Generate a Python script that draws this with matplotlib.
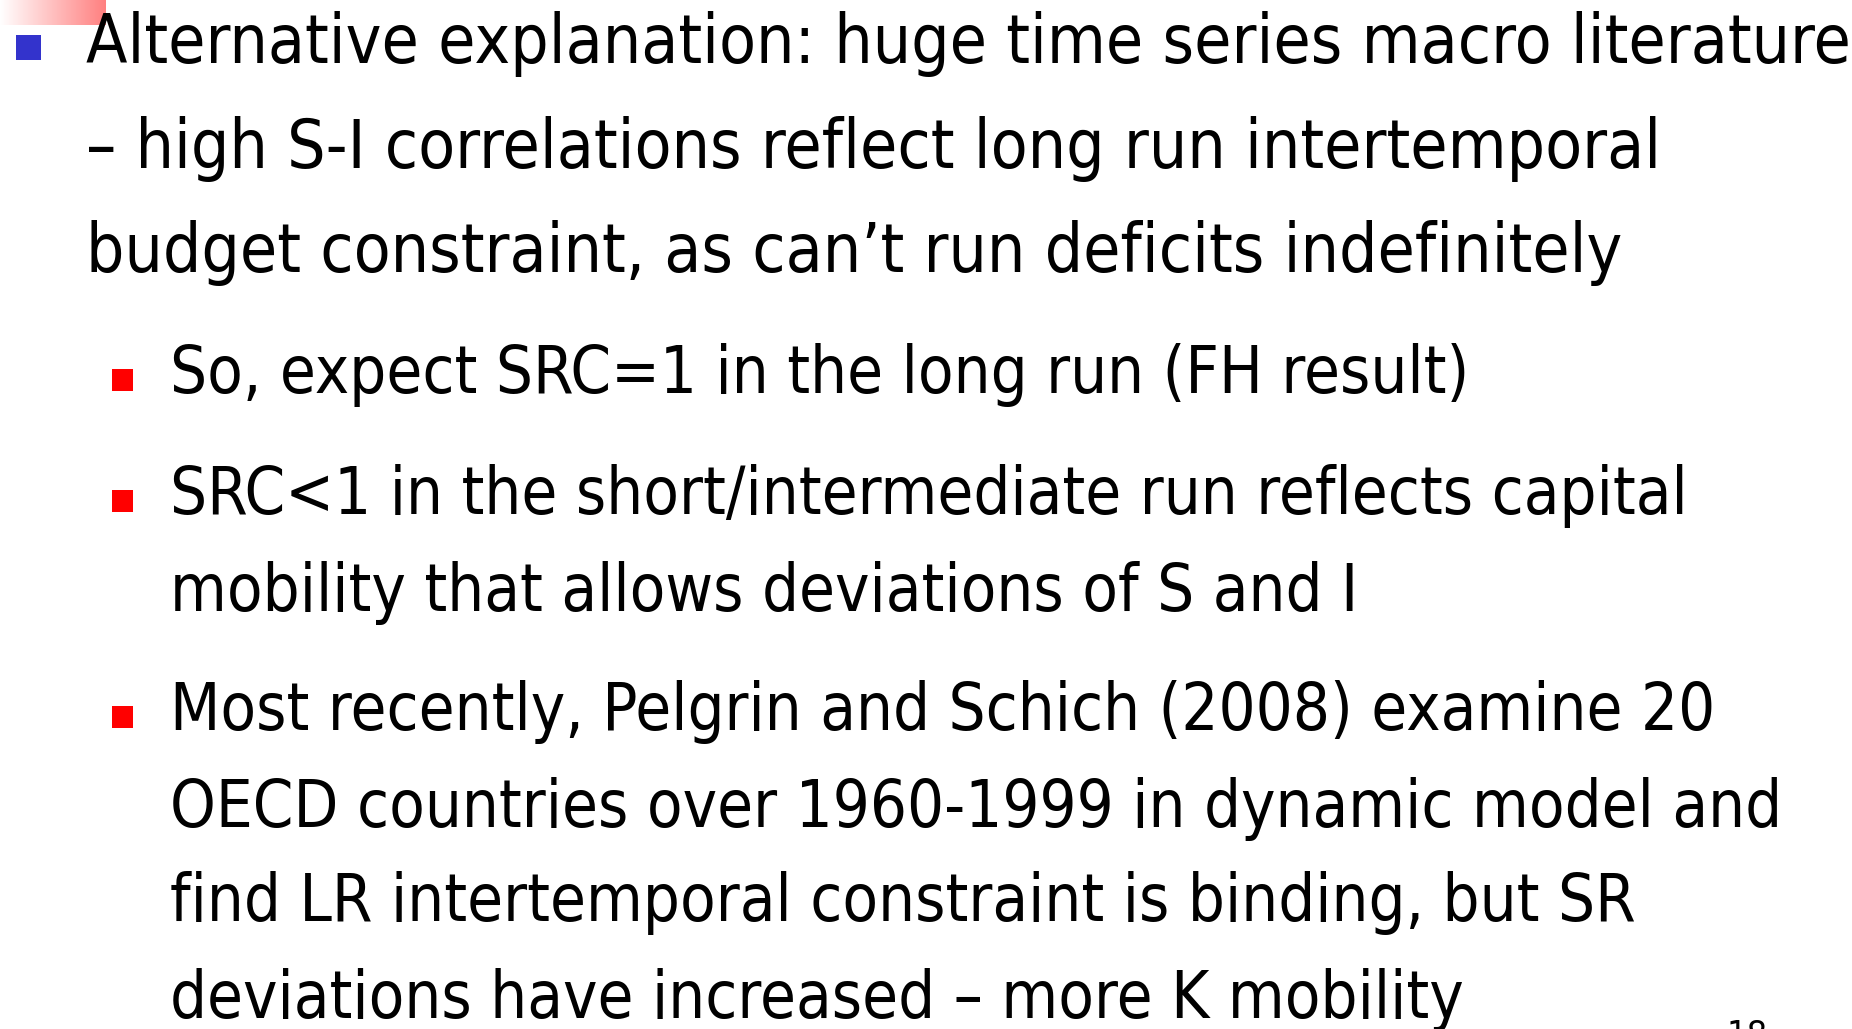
import numpy as np
import matplotlib.pyplot as plt
from matplotlib import font_manager as fm
from matplotlib.patches import Rectangle

W, H = 1852, 1029

# slide text
main_lines = [
    "Alternative explanation: huge time series macro literature",
    "\u2013 high S-I correlations reflect long run intertemporal",
    "budget constraint, as can\u2019t run deficits indefinitely",
]
sub_bullets = [
    ["So, expect SRC=1 in the long run (FH result)"],
    ["SRC<1 in the short/intermediate run reflects capital",
     "mobility that allows deviations of S and I"],
    ["Most recently, Pelgrin and Schich (2008) examine 20",
     "OECD countries over 1960-1999 in dynamic model and",
     "find LR intertemporal constraint is binding, but SR",
     "deviations have increased \u2013 more K mobility"],
]
page_number = "18"

# pick a narrow-ish humanist face (closest to Tahoma)
fp = fm.FontProperties(family="DejaVu Sans", stretch="condensed")
path = fm.findfont(fp)
if "Condensed" not in path:
    fp = fm.FontProperties(family="DejaVu Sans")
print(path)

fig = plt.figure(figsize=(W / 100, H / 100), dpi=100)
fig.patch.set_facecolor("white")


def px(x, y):
    return x / W, 1 - y / H


# pink gradient in the top-left corner
gax = fig.add_axes([0, 1 - 25 / H, 106 / W, 25 / H])
g = np.linspace(0, 1, 200)
grad = np.ones((1, 200, 3))
grad[0, :, 1] = 1 - 0.5 * g
grad[0, :, 2] = 1 - 0.5 * g
gax.imshow(grad, aspect="auto", extent=[0, 1, 0, 1])
gax.axis("off")

renderer = fig.canvas.get_renderer()


def fit_size(text, target):
    t = fig.text(0, 0, text, fontproperties=fp, fontsize=40)
    w = t.get_window_extent(renderer).width
    t.remove()
    return 40 * target / w


main_size = fit_size(main_lines[0], 1760)
sub_size = fit_size(sub_bullets[2][1], 1612)
print(main_size, sub_size)

# main bullet
fig.patches.append(Rectangle(px(16, 60), 25 / W, 25 / H, transform=fig.transFigure,
                             facecolor="#3333CC", edgecolor="none"))
main_y = [63, 168, 272]
for txt, y in zip(main_lines, main_y):
    fig.text(*px(86, y), txt, fontproperties=fp, fontsize=main_size,
             va="baseline", ha="left", color="black")

# sub bullets
sub_y = [[393], [514, 611], [730, 827, 921, 1018]]
for lines, ys in zip(sub_bullets, sub_y):
    by = ys[0]
    fig.patches.append(Rectangle(px(112, by - 2), 21 / W, 22 / H, transform=fig.transFigure,
                                 facecolor="#FF0000", edgecolor="none"))
    for txt, y in zip(lines, ys):
        fig.text(*px(170, y), txt, fontproperties=fp, fontsize=sub_size,
                 va="baseline", ha="left", color="black")

fig.text(*px(1727, 1045), page_number, fontproperties=fp, fontsize=26,
         va="baseline", ha="left", color="black")

fig.savefig("out.png", dpi=100)
